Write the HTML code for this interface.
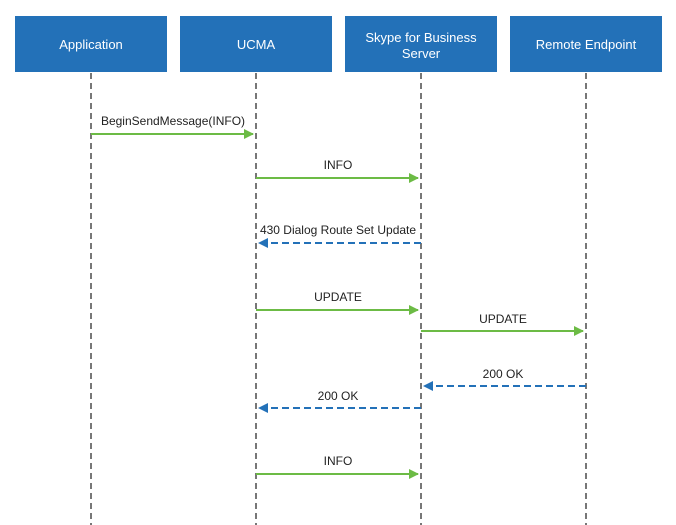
<!DOCTYPE html>
<html><head><style>
html,body{margin:0;padding:0;background:#fff;}
svg{display:block;font-family:"Liberation Sans",sans-serif;}
</style></head><body>
<svg width="676" height="525" viewBox="0 0 676 525" xmlns="http://www.w3.org/2000/svg">
<defs>
<marker id="g" markerWidth="10" markerHeight="10" refX="9" refY="5" orient="auto" markerUnits="userSpaceOnUse"><path d="M0,0 L10,5 L0,10 z" fill="#6cbb45"/></marker>
<marker id="b" markerWidth="10" markerHeight="10" refX="9" refY="5" orient="auto" markerUnits="userSpaceOnUse"><path d="M0,0 L10,5 L0,10 z" fill="#2371b8"/></marker>
</defs>
<g fill="#2371b8">
<rect x="15" y="16" width="152" height="56"/>
<rect x="180" y="16" width="152" height="56"/>
<rect x="345" y="16" width="152" height="56"/>
<rect x="510" y="16" width="152" height="56"/>
</g>
<g fill="#fff" font-size="13" text-anchor="middle">
<text x="91" y="49">Application</text>
<text x="256" y="49">UCMA</text>
<text x="421" y="42">Skype for Business</text>
<text x="421" y="58">Server</text>
<text x="586" y="49">Remote Endpoint</text>
</g>
<g stroke="#777" stroke-width="2" stroke-dasharray="6,4">
<line x1="91" y1="73" x2="91" y2="525"/>
<line x1="256" y1="73" x2="256" y2="525"/>
<line x1="421" y1="73" x2="421" y2="525"/>
<line x1="586" y1="73" x2="586" y2="525"/>
</g>
<g stroke="#6cbb45" stroke-width="2" marker-end="url(#g)">
<line x1="91" y1="134" x2="253" y2="134"/>
<line x1="256" y1="178" x2="418" y2="178"/>
<line x1="256" y1="310" x2="418" y2="310"/>
<line x1="421" y1="331" x2="583" y2="331"/>
<line x1="256" y1="474" x2="418" y2="474"/>
</g>
<g stroke="#2371b8" stroke-width="2" stroke-dasharray="7,4" marker-end="url(#b)">
<line x1="421" y1="243" x2="259" y2="243"/>
<line x1="586" y1="386" x2="424" y2="386"/>
<line x1="421" y1="408" x2="259" y2="408"/>
</g>
<g fill="#222" font-size="12" text-anchor="middle">
<text x="173" y="125">BeginSendMessage(INFO)</text>
<text x="338" y="169">INFO</text>
<text x="338" y="234">430 Dialog Route Set Update</text>
<text x="338" y="301">UPDATE</text>
<text x="503" y="323">UPDATE</text>
<text x="503" y="378">200 OK</text>
<text x="338" y="400">200 OK</text>
<text x="338" y="465">INFO</text>
</g>
</svg>
</body></html>
